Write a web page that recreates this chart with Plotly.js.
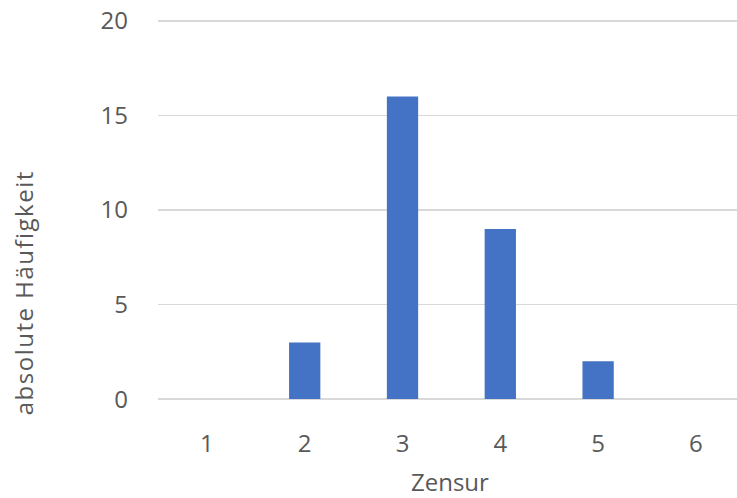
<!DOCTYPE html>
<html>
<head>
<meta charset="utf-8">
<script src="https://cdn.plot.ly/plotly-3.0.1.min.js"></script>
<style>
  html, body { margin: 0; padding: 0; background: #fff; }
  #chart { width: 737px; height: 498px; }
  /* a little extra tracking for the vertical axis caption */
  .annotation.ytitle text { letter-spacing: 1.5px; }
</style>
</head>
<body>
<div id="chart"></div>
<script>
// Grades (Zensur) and how often each one occurred
const grades = [1, 2, 3, 4, 5, 6];
const gradeLabels = ['1', '2', '3', '4', '5', '6'];
const counts = [0, 3, 16, 9, 2, 0];
const yTicks = [0, 5, 10, 15, 20];

const W = 737, H = 498;
const M = { l: 158, r: 0, t: 19, b: 97 };
const plotW = W - M.l - M.r, plotH = H - M.t - M.b;
const px2x = px => (px - M.l) / plotW;
const px2y = py => (H - M.b - py) / plotH;

const FONT = 'Open Sans, "Noto Sans", sans-serif';
const GREY = '#595959';

const trace = {
  type: 'bar',
  x: grades,
  y: counts,
  marker: { color: '#4472C4', line: { width: 0 } },
  hoverinfo: 'x+y'
};

const layout = {
  width: W, height: H,
  margin: M,
  paper_bgcolor: '#fff',
  plot_bgcolor: '#fff',
  showlegend: false,
  bargap: 0.68,
  font: { family: FONT, size: 24, color: GREY },
  xaxis: {
    range: [0.5, 6.42],
    tickvals: grades,
    ticktext: gradeLabels,
    showgrid: false,
    zeroline: false,
    showline: false,
    ticks: '',
    ticklabelstandoff: 26,
    tickfont: { family: FONT, size: 24, color: GREY }
  },
  yaxis: {
    // small padding so the 0 and 20 grid lines stay inside the plot area
    range: [-0.1, 20.1],
    tickvals: yTicks,
    ticktext: yTicks.map(String),
    showgrid: true,
    gridcolor: '#d9d9d9',
    gridwidth: 1.5,
    zeroline: false,
    showline: false,
    ticks: '',
    ticklabelstandoff: 29,
    tickfont: { family: FONT, size: 24, color: GREY }
  },
  annotations: [
    {
      text: 'Zensur',
      xref: 'paper', yref: 'paper',
      x: px2x(449.5), y: px2y(481),
      xanchor: 'center', yanchor: 'middle',
      borderpad: 0,
      showarrow: false,
      font: { family: FONT, size: 24, color: GREY }
    },
    {
      text: 'absolute Häufigkeit',
      textangle: -90,
      xref: 'paper', yref: 'paper',
      x: px2x(23), y: px2y(293),
      xanchor: 'center', yanchor: 'middle',
      showarrow: false,
      font: { family: FONT, size: 24, color: GREY }
    }
  ]
};

Plotly.newPlot('chart', [trace], layout, { staticPlot: true, displayModeBar: false }).then(() => {
  const anns = document.querySelectorAll('.annotation');
  if (anns[1]) anns[1].classList.add('ytitle');
});
</script>
</body>
</html>
